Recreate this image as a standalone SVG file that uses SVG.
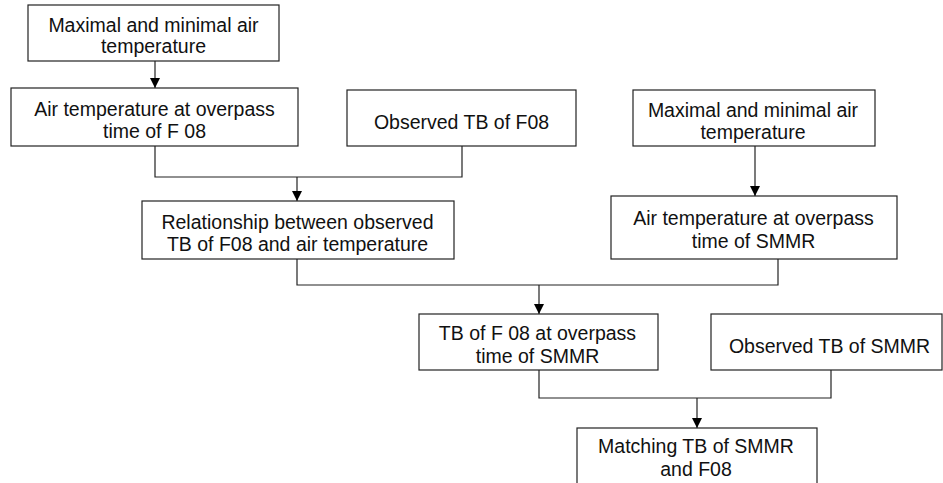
<svg xmlns="http://www.w3.org/2000/svg" width="943" height="483" viewBox="0 0 943 483">
<style>
  .box rect { fill: #fff; stroke: #222; stroke-width: 1.2; }
  .box text { font-family: "Liberation Sans", Arial, sans-serif; font-size: 19.5px; fill: #111; text-anchor: middle; }
  .conn path { fill: none; stroke: #222; stroke-width: 1.2; }
</style>
<defs>
  <marker id="arr" viewBox="0 0 10 10" refX="10" refY="5" markerWidth="10" markerHeight="10" markerUnits="userSpaceOnUse" orient="auto">
    <path d="M0,0 L10,5 L0,10 Z" fill="#000"/>
  </marker>
</defs>
<rect width="943" height="483" fill="#fff"/>
<g id="connectors" class="conn">
  <path d="M155,61 V88" marker-end="url(#arr)"/>
  <path d="M155,146 V177 H462 V146"/>
  <path d="M297,177 V201" marker-end="url(#arr)"/>
  <path d="M755,146 V196" marker-end="url(#arr)"/>
  <path d="M297,259 V285 H778 V259"/>
  <path d="M539,285 V314" marker-end="url(#arr)"/>
  <path d="M539,370 V398 H831 V370"/>
  <path d="M697,398 V428" marker-end="url(#arr)"/>
</g>
<g id="n1" class="box">
  <rect x="28" y="5" width="251" height="56"/>
  <text x="153.5" y="32">Maximal and minimal air</text>
  <text x="153.5" y="53">temperature</text>
</g>
<g id="n2" class="box">
  <rect x="11" y="88" width="287" height="58"/>
  <text x="154.5" y="116">Air temperature at overpass</text>
  <text x="154.5" y="138">time of F 08</text>
</g>
<g id="n3" class="box">
  <rect x="347" y="90" width="229" height="56"/>
  <text x="461.5" y="129">Observed TB of F08</text>
</g>
<g id="n4" class="box">
  <rect x="142" y="201" width="312" height="58"/>
  <text x="297.5" y="229">Relationship between observed</text>
  <text x="297.5" y="251">TB of F08 and air temperature</text>
</g>
<g id="n5" class="box">
  <rect x="633" y="90" width="242" height="56"/>
  <text x="753" y="117">Maximal and minimal air</text>
  <text x="753" y="139">temperature</text>
</g>
<g id="n6" class="box">
  <rect x="611" y="196" width="286" height="63"/>
  <text x="753.5" y="225">Air temperature at overpass</text>
  <text x="753.5" y="248">time of SMMR</text>
</g>
<g id="n7" class="box">
  <rect x="419" y="314" width="239" height="56"/>
  <text x="537.5" y="340">TB of F 08 at overpass</text>
  <text x="537.5" y="363">time of SMMR</text>
</g>
<g id="n8" class="box">
  <rect x="711" y="314" width="231" height="56"/>
  <text x="829.5" y="353">Observed TB of SMMR</text>
</g>
<g id="n9" class="box">
  <rect x="577" y="428" width="240" height="60"/>
  <text x="696" y="453">Matching TB of SMMR</text>
  <text x="696" y="476">and F08</text>
</g>
</svg>
